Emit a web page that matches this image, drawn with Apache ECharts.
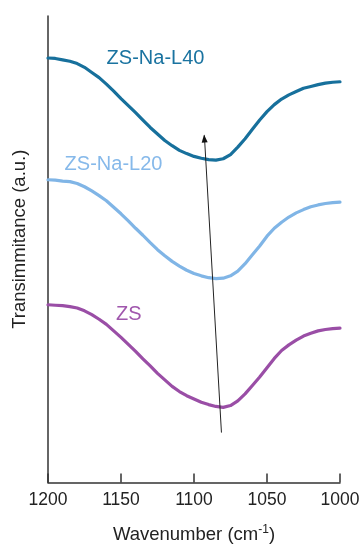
<!DOCTYPE html>
<html>
<head>
<meta charset="utf-8">
<script src="https://cdn.jsdelivr.net/npm/echarts@6/dist/echarts.min.js"></script>
<style>
  html, body { margin: 0; padding: 0; background: #fff; }
  #chart { width: 363px; height: 549px; }
</style>
</head>
<body>
<div id="chart"></div>
<script>
// Wavenumber grid (cm^-1) shared by all three spectra, 5 cm^-1 steps
const wavenumbers = [1200, 1195, 1190, 1185, 1180, 1175, 1170, 1165, 1160, 1155,
                     1150, 1145, 1140, 1135, 1130, 1125, 1120, 1115, 1110, 1105,
                     1100, 1095, 1090, 1085, 1080, 1075, 1070, 1065, 1060, 1055,
                     1050, 1045, 1040, 1035, 1030, 1025, 1020, 1015, 1010, 1005, 1000];

// Transmittance (a.u., vertically offset) for each sample
const zsNaL40 = [91.0, 90.9, 90.6, 90.3, 89.8, 89.0, 87.9, 86.8, 85.4, 83.9,
                 82.3, 80.8, 79.3, 77.7, 76.1, 74.7, 73.3, 72.2, 71.2, 70.5,
                 69.9, 69.5, 69.2, 69.1, 69.4, 70.3, 71.9, 73.7, 75.7, 77.7,
                 79.5, 81.0, 82.2, 83.1, 83.8, 84.5, 84.9, 85.3, 85.6, 85.8, 85.9];
const zsNaL20 = [64.9, 64.8, 64.6, 64.5, 64.1, 63.4, 62.5, 61.5, 60.4, 59.0,
                 57.6, 56.1, 54.5, 53.0, 51.4, 49.9, 48.6, 47.4, 46.4, 45.5,
                 44.8, 44.3, 43.9, 43.7, 43.8, 44.3, 45.3, 46.9, 48.8, 50.7,
                 52.8, 54.5, 55.8, 56.9, 57.8, 58.5, 59.1, 59.5, 59.8, 60.0, 60.1];
const zs      = [38.1, 38.0, 37.9, 37.7, 37.4, 36.8, 36.0, 35.0, 33.9, 32.5,
                 31.1, 29.6, 28.1, 26.5, 25.0, 23.4, 22.0, 20.6, 19.5, 18.6,
                 17.9, 17.2, 16.7, 16.3, 16.1, 16.5, 17.5, 19.0, 20.8, 22.6,
                 24.6, 26.6, 28.3, 29.5, 30.5, 31.4, 32.0, 32.5, 32.8, 33.0, 33.1];

// Arrow showing the band shift: [wavenumber, transmittance] tail -> head
const shiftArrow = [[1081.2, 10.7], [1092.9, 74.4]];

const xTicks = { min: 1000, max: 1200, step: 50 };

const FONT = '"Liberation Sans", Arial, sans-serif';
const pair = vals => wavenumbers.map((w, i) => [w, vals[i]]);

const chart = echarts.init(document.getElementById('chart'), null, { renderer: 'canvas' });

// Dense sampling, drawn as a plain polyline through the measured points
const spectrum = (name, vals, color) => ({
  name, type: 'line', data: pair(vals), smooth: false, showSymbol: false,
  lineStyle: { color, width: 3.2, cap: 'round', join: 'round' }, itemStyle: { color }, z: 3
});

chart.setOption({
  animation: false,
  grid: { left: 48, right: 23, top: 16, bottom: 61 },
  xAxis: {
    type: 'value', inverse: true,
    min: xTicks.min, max: xTicks.max, interval: xTicks.step,
    name: 'Wavenumber (cm{sup|-1})',
    nameLocation: 'middle', nameGap: 41,
    nameTextStyle: {
      fontFamily: FONT, fontSize: 18.5, color: '#222',
      rich: { sup: { fontFamily: FONT, fontSize: 12, color: '#222', padding: [0, 0, 10, 0] } }
    },
    axisLine: { lineStyle: { color: '#333', width: 1.5 } },
    axisTick: { show: true, inside: true, length: 9, lineStyle: { color: '#333', width: 1.5 } },
    axisLabel: { fontFamily: FONT, fontSize: 17.5, color: '#222', margin: 9, formatter: v => String(v) },
    splitLine: { show: false }
  },
  yAxis: {
    type: 'value', min: 0, max: 100,
    name: 'Transimmitance (a.u.)',
    nameLocation: 'middle', nameGap: 19,
    nameTextStyle: { fontFamily: FONT, fontSize: 18.5, color: '#222', padding: [0, 0, 0, 20] },
    axisLine: { show: true, lineStyle: { color: '#333', width: 1.5 } },
    axisTick: { show: false },
    axisLabel: { show: false },
    splitLine: { show: false }
  },
  series: [
    spectrum('ZS-Na-L40', zsNaL40, '#17709c'),
    spectrum('ZS-Na-L20', zsNaL20, '#80b5e6'),
    spectrum('ZS', zs, '#9a4ea6'),
    {
      name: 'shift', type: 'line', data: shiftArrow, showSymbol: false,
      lineStyle: { color: '#222', width: 1 }, z: 4,
      markPoint: {
        symbol: 'triangle', symbolSize: [6, 8],
        symbolRotate: 4.5,
        itemStyle: { color: '#111' },
        label: { show: false },
        data: [{ coord: shiftArrow[1], symbolOffset: [0, 3] }]
      }
    }
  ],
  graphic: [
    { type: 'text', x: 155.5, y: 58, style: { text: 'ZS-Na-L40', font: '20px ' + FONT, fill: '#1a73a0', textAlign: 'center', textVerticalAlign: 'middle' } },
    { type: 'text', x: 113.5, y: 164, style: { text: 'ZS-Na-L20', font: '20px ' + FONT, fill: '#86b9ea', textAlign: 'center', textVerticalAlign: 'middle' } },
    { type: 'text', x: 128.7, y: 314.5, style: { text: 'ZS', font: '20px ' + FONT, fill: '#a057ad', textAlign: 'center', textVerticalAlign: 'middle' } }
  ]
});
</script>
</body>
</html>
